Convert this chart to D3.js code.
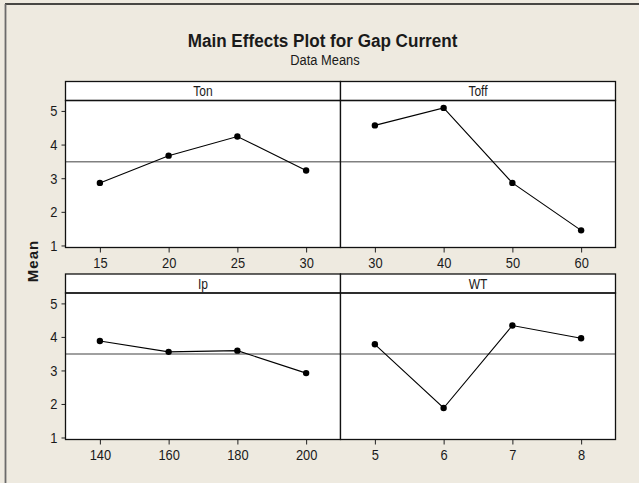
<!DOCTYPE html>
<html>
<head>
<meta charset="utf-8">
<script src="https://cdn.jsdelivr.net/npm/d3@7"></script>
<style>
  html, body { margin: 0; padding: 0; background: #EEEAE0; }
  svg { display: block; }
  text { font-family: "Liberation Sans Narrow", "Arial Narrow", "Liberation Sans", sans-serif; fill: #1a1a1a; }
</style>
</head>
<body>
<svg id="chart" width="639" height="483"></svg>
<script>
// ---- data ----
const factors = ["Ton", "Toff", "Ip", "WT"];
const tonLevels = ["15", "20", "25", "30"];
const tonMeans = [2.86, 3.67, 4.24, 3.23];
const toffLevels = ["30", "40", "50", "60"];
const toffMeans = [4.57, 5.09, 2.86, 1.45];
const ipLevels = ["140", "160", "180", "200"];
const ipMeans = [3.88, 3.555, 3.59, 2.92];
const wtLevels = ["5", "6", "7", "8"];
const wtMeans = [3.78, 1.88, 4.34, 3.96];
const grandMean = 3.49;
const yTicks = [1, 2, 3, 4, 5];

const panels = [
  { name: factors[0], levels: tonLevels, means: tonMeans, col: 0, row: 0 },
  { name: factors[1], levels: toffLevels, means: toffMeans, col: 1, row: 0 },
  { name: factors[2], levels: ipLevels, means: ipMeans, col: 0, row: 1 },
  { name: factors[3], levels: wtLevels, means: wtMeans, col: 1, row: 1 }
];

// ---- layout ----
const svg = d3.select("#chart");
const colX = [65.5, 340.5, 615.5];
const rows = [
  { stripTop: 81.5, plotTop: 100.5, plotBottom: 247.5 },
  { stripTop: 274, plotTop: 293, plotBottom: 439.5 }
];
const yDomain = [0.94, 5.31];
const SX = 0.86; // horizontal condensing to mimic a narrow typeface

// outer frame (top and left edges visible)
svg.append("rect").attr("x", 0).attr("y", 0).attr("width", 639).attr("height", 483).attr("fill", "#EEEAE0");
svg.append("line").attr("x1", 5).attr("x2", 639).attr("y1", 4).attr("y2", 4)
  .attr("stroke", "#111").attr("stroke-width", 1.5);
svg.append("line").attr("x1", 5.5).attr("x2", 5.5).attr("y1", 4).attr("y2", 483)
  .attr("stroke", "#6b6b6b").attr("stroke-width", 1.8);

// titles
svg.append("text").attr("transform", `translate(322.5,47) scale(0.9,1)`).attr("text-anchor", "middle")
  .style("font-size", "19px").style("font-weight", "bold").text("Main Effects Plot for Gap Current");
svg.append("text").attr("transform", `translate(325,65) scale(0.86,1)`).attr("text-anchor", "middle")
  .style("font-size", "15px").text("Data Means");

// y label
svg.append("text").attr("transform", "translate(37.5,261) rotate(-90)")
  .attr("text-anchor", "middle").style("font-size", "15px").style("font-weight", "bold")
  .style("letter-spacing", "1px").text("Mean");

panels.forEach(p => {
  const x0 = colX[p.col], x1 = colX[p.col + 1];
  const r = rows[p.row];
  const g = svg.append("g");

  const x = d3.scalePoint().domain(p.levels).range([x0, x1]).padding(0.5);
  const y = d3.scaleLinear().domain(yDomain).range([r.plotBottom, r.plotTop]);

  // plot background
  g.append("rect").attr("x", x0).attr("y", r.stripTop).attr("width", x1 - x0)
    .attr("height", r.plotBottom - r.stripTop).attr("fill", "#fff");

  // grand mean reference line
  g.append("line").attr("x1", x0).attr("x2", x1)
    .attr("y1", y(grandMean)).attr("y2", y(grandMean))
    .attr("stroke", "#808080").attr("stroke-width", 1.5);

  // data line
  const pts = p.levels.map((l, i) => [x(l), y(p.means[i])]);
  g.append("path").attr("d", d3.line()(pts)).attr("fill", "none")
    .attr("stroke", "#000").attr("stroke-width", 1.1);
  g.selectAll("circle.pt").data(pts).join("circle").attr("class", "pt")
    .attr("cx", d => d[0]).attr("cy", d => d[1]).attr("r", 3.2).attr("fill", "#000");

  // x axis
  const xa = g.append("g").attr("transform", `translate(0,${r.plotBottom})`)
    .call(d3.axisBottom(x).tickSize(5).tickPadding(5));
  xa.select(".domain").remove();
  xa.selectAll(".tick line").attr("stroke", "#222");
  xa.selectAll(".tick text").style("font-size", "15px").style("font-family", null)
    .attr("fill", "#222").attr("transform", `scale(${SX},1)`);

  // y axis on left panels
  if (p.col === 0) {
    const ya = g.append("g").attr("transform", `translate(${x0},0)`)
      .call(d3.axisLeft(y).tickValues(yTicks).tickSize(4).tickPadding(4).tickFormat(d3.format("d")));
    ya.select(".domain").remove();
    ya.selectAll(".tick line").attr("stroke", "#222");
    ya.selectAll(".tick text").style("font-size", "15px").style("font-family", null)
      .attr("fill", "#222").attr("x", -9.5).attr("transform", `scale(${SX},1)`);
  }

  // strip
  g.append("rect").attr("x", x0).attr("y", r.stripTop).attr("width", x1 - x0)
    .attr("height", r.plotTop - r.stripTop).attr("fill", "#fff")
    .attr("stroke", "#111").attr("stroke-width", 1.3);
  g.append("text").attr("transform", `translate(${(x0 + x1) / 2},${r.plotTop - 4.5}) scale(${SX},1)`)
    .attr("text-anchor", "middle").style("font-size", "14px").attr("fill", "#333").text(p.name);

  // panel frame
  g.append("rect").attr("x", x0).attr("y", r.plotTop).attr("width", x1 - x0)
    .attr("height", r.plotBottom - r.plotTop).attr("fill", "none")
    .attr("stroke", "#111").attr("stroke-width", 1.3);
});
</script>
</body>
</html>
